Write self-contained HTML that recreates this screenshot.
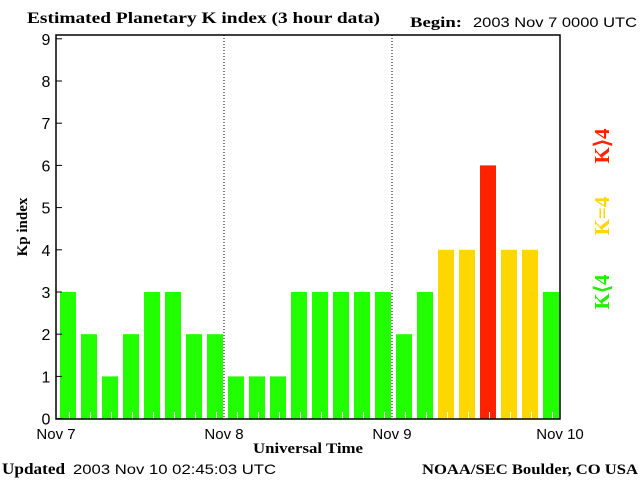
<!DOCTYPE html>
<html><head><meta charset="utf-8"><style>
body{margin:0;background:#fff;}
svg{display:block;}
text{font-family:"Liberation Sans",sans-serif;}
.serif{font-family:"Liberation Serif",serif;font-weight:bold;}
</style></head><body>
<svg id="chart" width="640" height="480" viewBox="0 0 640 480">
<text class="serif" x="27" y="23" font-size="16" textLength="353" lengthAdjust="spacingAndGlyphs">Estimated Planetary K index (3 hour data)</text>
<text class="serif" x="410" y="27" font-size="15" textLength="52" lengthAdjust="spacingAndGlyphs">Begin:</text>
<text x="473" y="27" font-size="14" textLength="164" lengthAdjust="spacingAndGlyphs">2003 Nov 7 0000 UTC</text>
<g id="bars"></g>
<g id="axes"></g>
<text class="serif" x="0" y="0" font-size="15" transform="translate(27,227) rotate(-90)" text-anchor="middle">Kp index</text>
<text class="serif" x="308" y="453" font-size="15" text-anchor="middle" textLength="110" lengthAdjust="spacingAndGlyphs">Universal Time</text>
<text class="serif" x="2" y="474" font-size="16" textLength="63" lengthAdjust="spacingAndGlyphs">Updated</text>
<text x="73" y="474" font-size="14" textLength="203" lengthAdjust="spacingAndGlyphs">2003 Nov 10 02:45:03 UTC</text>
<text class="serif" x="422" y="474" font-size="15" textLength="216" lengthAdjust="spacingAndGlyphs">NOAA/SEC Boulder, CO USA</text>
<text class="serif" font-size="21" fill="#ff2200" transform="translate(609,146) rotate(-90)" text-anchor="middle">K⟩4</text>
<text class="serif" font-size="21" fill="#ffd700" transform="translate(609,216) rotate(-90)" text-anchor="middle">K=4</text>
<text class="serif" font-size="21" fill="#22ee00" transform="translate(609,292) rotate(-90)" text-anchor="middle">K⟨4</text>
</svg>
<script>
const kpValues=[3,2,1,2,3,3,2,2,1,1,1,3,3,3,3,3,2,3,4,4,6,4,4,3];
const yTicks=[0,1,2,3,4,5,6,7,8,9];
const dayLabels=["Nov 7","Nov 8","Nov 9","Nov 10"];
const NS="http://www.w3.org/2000/svg";
const L=56,R=560,T=35,B=419;
const y=v=>418.6-v*42.2;
const slot=(R-L)/kpValues.length;
const x=i=>L+i*slot;
function mk(tag,attrs,parent){const e=document.createElementNS(NS,tag);for(const k in attrs)e.setAttribute(k,attrs[k]);parent.appendChild(e);return e;}
const bars=document.getElementById('bars'),axes=document.getElementById('axes');
kpValues.forEach((v,i)=>{
 const col=v>4?'#ff2200':(v===4?'#ffd700':'#22ff00');
 const r=mk('rect',{x:x(i)+4,y:y(v),width:slot-5,height:B-y(v),fill:col},bars);
 
 
 const t=mk('line',{x1:x(i)+slot/2+3,x2:x(i)+slot/2+3,y1:B-7,y2:B,stroke:'#fff','stroke-width':1},bars);
 
 
});
const f=mk('rect',{x:L,y:T,width:R-L,height:B-T,fill:'none',stroke:'#000','stroke-width':1.5},axes);


yTicks.forEach(v=>{
 const l=mk('line',{x1:L,x2:L+6,y1:y(v),y2:y(v),stroke:'#000'},axes);
 
 
 const t=mk('text',{x:46,y:y(v)+6,'font-size':16,'text-anchor':'middle'},axes);
 t.textContent=v;
 
 
});
dayLabels.forEach((d,i)=>{
 const px=L+i*(R-L)/3;
 if(i>0&&i<3){
  const l=mk('line',{x1:px,x2:px,y1:T,y2:B,stroke:'#000','stroke-dasharray':'1,2'},axes);
  
  
 }
 const t=mk('text',{x:px,y:439,'font-size':15,'text-anchor':'middle'},axes);
 t.textContent=d;
 
 
});
</script>
</body></html>
